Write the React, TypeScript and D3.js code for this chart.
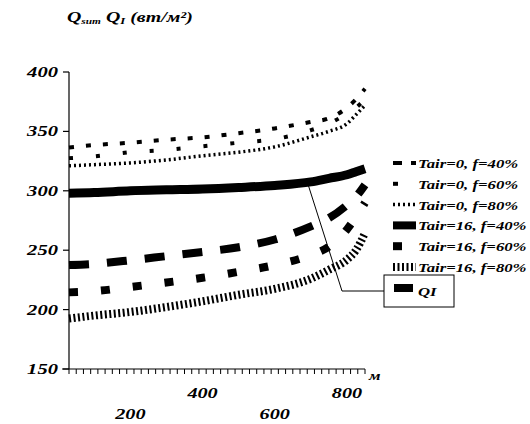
import * as d3 from 'd3'

// distance along the axis (м)
const xs = [30, 100, 200, 300, 400, 500, 600, 700, 750, 800, 825, 850]

// flux values (вт/м²)
const t0f40 = [336.5, 338.5, 340.5, 343, 345, 348.5, 352.5, 358, 361, 370, 377, 386]
const t0f60 = [327.5, 329, 332.5, 334.5, 337.5, 340.5, 343.5, 351, 356.5, 365, 370, 377]
const t0f80 = [321, 322, 323.5, 326, 329.5, 332.5, 337, 345.5, 350, 356.5, 364, 372]
const qI = [298, 298.5, 300, 300.8, 301.5, 302.8, 304.5, 307.5, 310.5, 313.5, 316, 318.5]
const t16f40 = [237.5, 238.5, 241.5, 245, 248.5, 252.5, 259, 270, 277, 288, 295, 305]
const t16f60 = [214.5, 215.5, 219, 222.8, 226.8, 231.8, 237.5, 246, 253, 267.5, 278, 290]
const t16f80 = [192.5, 195, 198, 202.2, 207, 212.5, 217.5, 226, 233.5, 242, 250, 264.5]

const yTicks = [150, 200, 250, 300, 350, 400]
const xLabelsTop = [400, 800]
const xLabelsBottom = [200, 600]

const series = [
  { name: 'Tair=0, f=40%', values: t0f40, width: 4, dash: '5 12', legendDash: '9 9' },
  { name: 'Tair=0, f=60%', values: t0f60, width: 4, dash: '4 23', legendDash: '5 23' },
  { name: 'Tair=0, f=80%', values: t0f80, width: 3.5, dash: '2 3', legendDash: '2 3' },
  { name: 'Tair=16, f=40%', values: t16f40, width: 8, dash: '20 18', legendDash: '24 18' },
  { name: 'Tair=16, f=60%', values: t16f60, width: 8, dash: '9 23', legendDash: '9 23' },
  { name: 'Tair=16, f=80%', values: t16f80, width: 8, dash: '2 2.5', legendDash: '2 2.5' },
]

const font = "'Liberation Serif', 'Times New Roman', serif"

// the original picture is stretched sideways, so text is widened too
const Txt = ({ x, y, size, sx = 1.35, anchor = 'start', children }: any) => (
  <text
    transform={`translate(${x},${y}) scale(${sx},1)`}
    fontSize={size}
    textAnchor={anchor}
  >
    {children}
  </text>
)

export default function App() {
  const left = 69
  const right = 365
  const top = 72
  const bottom = 369

  const x = d3.scaleLinear().domain([30, 850]).range([left, right])
  const y = d3.scaleLinear().domain([150, 400]).range([bottom, top])

  const line = d3
    .line<number>()
    .x((_, i) => x(xs[i]))
    .y((d) => y(d))
    .curve(d3.curveMonotoneX)

  const minorTicks = d3.range(30, 851, 20)

  // leader line from QI curve to its label box
  const leadX = x(690)
  const leadY = y(307.5)

  return (
    <svg
      width={530}
      height={424}
      style={{ position: 'absolute', left: 0, top: 0, background: '#fff' }}
      fontFamily={font}
      fontWeight='bold'
      fontStyle='italic'
    >
      {/* title */}
      <Txt x={67} y={22} size={14} sx={1.42}>
        Q<tspan fontSize={8} dy={2}>sum</tspan>
        <tspan dy={-2}> Q</tspan>
        <tspan fontSize={9} dy={2}>I</tspan>
        <tspan dy={-2}> (вт/м²)</tspan>
      </Txt>

      {/* y axis */}
      <line x1={left} x2={left} y1={top} y2={bottom} stroke='#000' strokeWidth={1.2} />
      {yTicks.map((t) => (
        <g key={t}>
          <line x1={left - 6} x2={left} y1={y(t)} y2={y(t)} stroke='#000' strokeWidth={1.2} />
          <Txt x={left - 11} y={y(t) + 5} size={14.5} sx={1.42} anchor='end'>
            {t}
          </Txt>
        </g>
      ))}

      {/* x axis */}
      <line x1={left - 7} x2={right} y1={bottom} y2={bottom} stroke='#000' strokeWidth={1.2} />
      {minorTicks.map((t) => (
        <line key={t} x1={x(t)} x2={x(t)} y1={bottom} y2={bottom + 5} stroke='#000' strokeWidth={1} />
      ))}
      {xLabelsTop.map((t) => (
        <Txt key={t} x={x(t)} y={398} size={15} sx={1.35} anchor='middle'>
          {t}
        </Txt>
      ))}
      {xLabelsBottom.map((t) => (
        <Txt key={t} x={x(t)} y={419} size={15} sx={1.35} anchor='middle'>
          {t}
        </Txt>
      ))}
      <Txt x={369} y={380} size={13} sx={1.3}>
        м
      </Txt>

      {/* curves */}
      <path d={line(qI) ?? ''} fill='none' stroke='#000' strokeWidth={9} />
      {series.map((s) => (
        <path
          key={s.name}
          d={line(s.values) ?? ''}
          fill='none'
          stroke='#000'
          strokeWidth={s.width}
          strokeDasharray={s.dash}
        />
      ))}

      {/* legend */}
      {series.map((s, i) => {
        const cy = 163 + i * 20.8
        return (
          <g key={s.name}>
            <line
              x1={393}
              x2={416}
              y1={cy}
              y2={cy}
              stroke='#000'
              strokeWidth={s.width}
              strokeDasharray={s.legendDash}
            />
            <Txt x={418} y={cy + 5} size={13.5} sx={1.24}>
              {s.name}
            </Txt>
          </g>
        )
      })}

      {/* QI label */}
      <polyline
        points={`${leadX},${leadY} 342,291 384,291`}
        fill='none'
        stroke='#000'
        strokeWidth={1}
      />
      <rect x={384} y={275} width={70} height={32} fill='#fff' stroke='#000' strokeWidth={1} />
      <line x1={394} x2={413} y1={288} y2={288} stroke='#000' strokeWidth={8} />
      <Txt x={418} y={296} size={13.5} sx={1.24}>
        QI
      </Txt>
    </svg>
  )
}
